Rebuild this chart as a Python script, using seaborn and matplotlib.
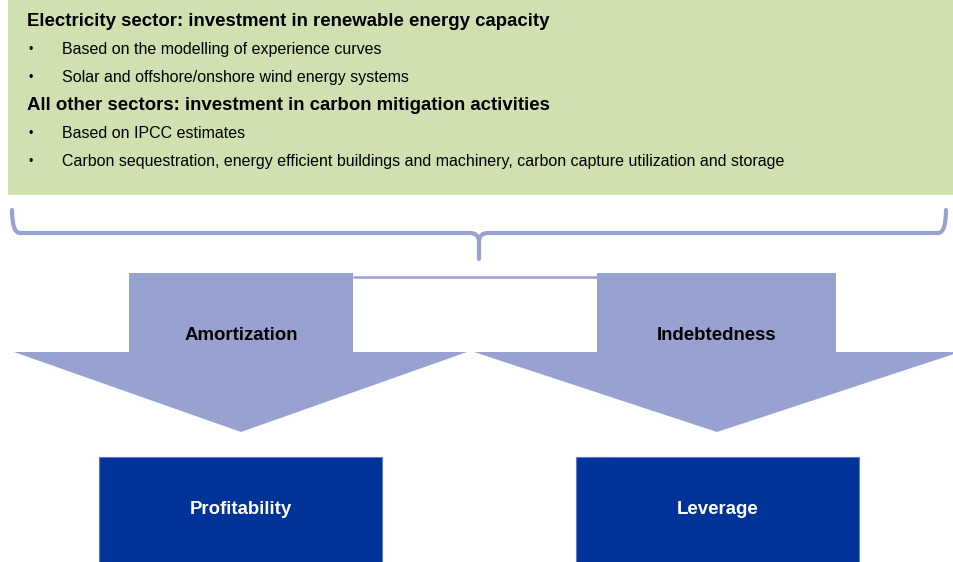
import matplotlib.pyplot as plt
import seaborn as sns
from matplotlib.patches import Polygon, Rectangle
from matplotlib.path import Path
from matplotlib.patches import PathPatch

# text content
headings = ["Electricity sector: investment in renewable energy capacity",
            "All other sectors: investment in carbon mitigation activities"]
bullets = [["Based on the modelling of experience curves",
            "Solar and offshore/onshore wind energy systems"],
           ["Based on IPCC estimates",
            "Carbon sequestration, energy efficient buildings and machinery, carbon capture utilization and storage"]]
arrow_labels = ["Amortization", "Indebtedness"]
box_labels = ["Profitability", "Leverage"]

GREEN = "#d1e0b0"
LILAC = "#98a2d0"
NAVY = "#003399"

sns.set_theme(style="white")
plt.rcParams["font.family"] = ["Liberation Sans", "DejaVu Sans"]

fig = plt.figure(figsize=(9.54, 5.62), dpi=100)
ax = fig.add_axes([0, 0, 1, 1])
ax.set_xlim(0, 954)
ax.set_ylim(562, 0)
ax.axis("off")

# green panel
ax.add_patch(Rectangle((8, 0), 946, 195, facecolor=GREEN, edgecolor="none"))
y = 20
for head, items in zip(headings, bullets):
    ax.text(27, y, head, fontsize=13.4, fontweight="bold", va="center_baseline", ha="left", color="black")
    y += 28
    for item in items:
        ax.text(29, y, "\u2022", fontsize=9, va="center_baseline", ha="left", color="black")
        ax.text(62, y, item, fontsize=11.5, va="center_baseline", ha="left", color="black")
        y += 28

# brace
verts = [(12, 210), (12, 233), (20, 233),
         (470, 233), (479, 233), (479, 242),
         (479, 259),
         (479, 242), (479, 233), (488, 233),
         (938, 233), (946, 233), (946, 210)]
codes = [Path.MOVETO, Path.CURVE3, Path.CURVE3,
         Path.LINETO, Path.CURVE3, Path.CURVE3,
         Path.LINETO,
         Path.MOVETO, Path.CURVE3, Path.CURVE3,
         Path.LINETO, Path.CURVE3, Path.CURVE3]
ax.add_patch(PathPatch(Path(verts, codes), facecolor="none", edgecolor=LILAC,
                       lw=3, capstyle="round", joinstyle="round"))

# connector line between arrow shafts
ax.plot([353, 597], [277, 277], color=LILAC, lw=1.8, solid_capstyle="butt")

# arrows
arrows = [
    dict(shaft=(129, 353), head=(14, 467), tip=241),
    dict(shaft=(597, 836), head=(474, 960), tip=717),
]
for a, label in zip(arrows, arrow_labels):
    s0, s1 = a["shaft"]
    h0, h1 = a["head"]
    pts = [(s0, 273), (s1, 273), (s1, 352), (h1, 352), (a["tip"], 432),
           (h0, 352), (s0, 352)]
    ax.add_patch(Polygon(pts, closed=True, facecolor=LILAC, edgecolor="none"))
    ax.text(a["tip"], 333, label, fontsize=13.4, fontweight="bold",
            ha="center", va="center_baseline", color="black")

# result boxes
box_x = [99, 576]
for bx, label in zip(box_x, box_labels):
    ax.add_patch(Rectangle((bx, 457), 283, 110, facecolor=NAVY, edgecolor="#5a7cc8", lw=0.8))
    ax.text(bx + 141.5, 508, label, fontsize=13.4, fontweight="bold",
            ha="center", va="center_baseline", color="white")

fig.savefig("out.png", dpi=100)
